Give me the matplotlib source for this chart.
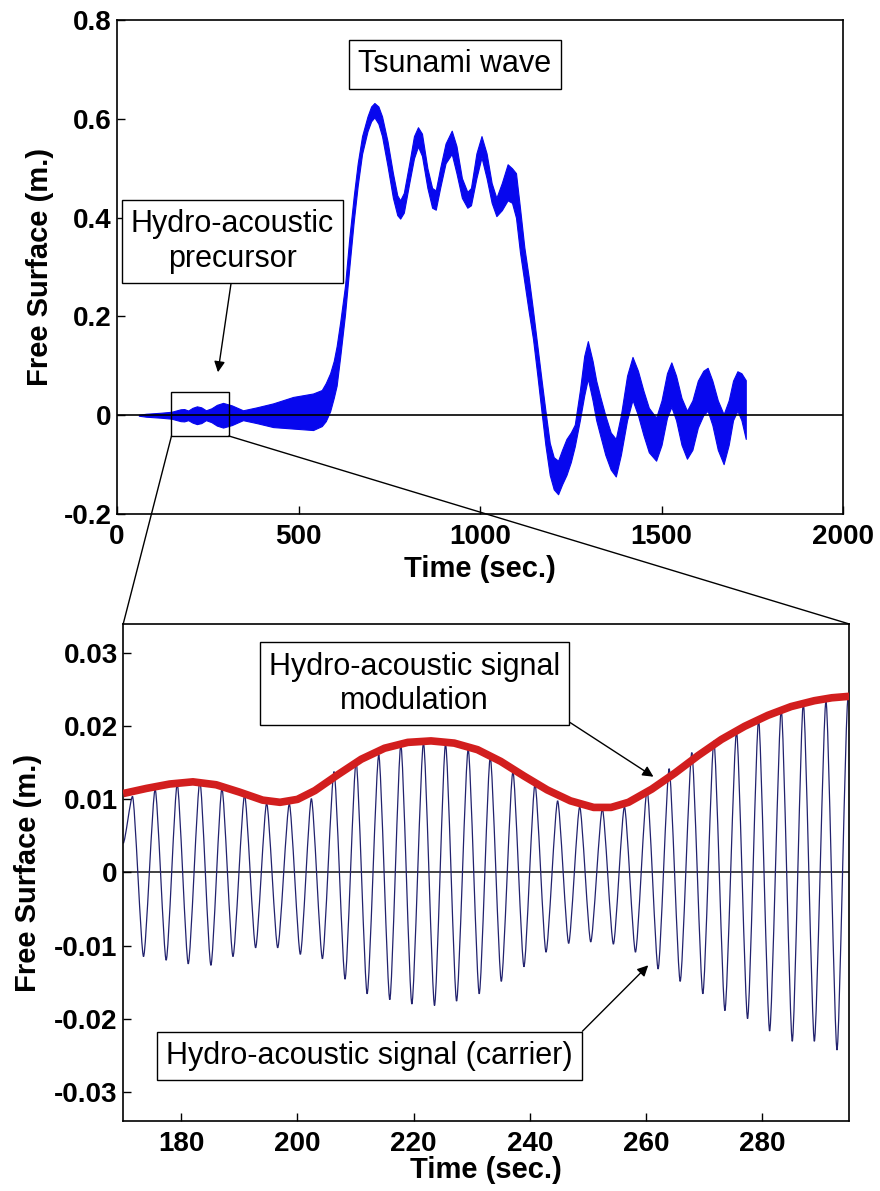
import matplotlib
matplotlib.use("Agg")
import matplotlib.pyplot as plt
from matplotlib.patches import Rectangle, ConnectionPatch, PathPatch
from matplotlib.path import Path

plt.rcParams["font.family"] = ["Liberation Sans", "DejaVu Sans"]

# ---- top panel: tsunami record, drawn as the envelope of the fast oscillation ----
t_top = [60, 80, 120, 150, 175, 185, 196, 208, 220, 232, 245, 260, 275, 292, 316,
         347, 385, 430, 485, 540, 564, 575, 587, 597, 605, 615, 628, 640, 652, 663,
         675, 690, 700, 709, 720, 730, 745, 760, 772, 780, 790, 805, 818, 829, 840,
         855, 868, 878, 890, 905, 922, 935, 950, 965, 975, 990, 1004, 1018, 1032,
         1045, 1060, 1076, 1088, 1099, 1110, 1122, 1134, 1146, 1158, 1169, 1180,
         1192, 1203, 1215, 1226, 1238, 1250, 1261, 1275, 1287, 1297, 1310, 1320,
         1331, 1345, 1360, 1374, 1388, 1405, 1420, 1435, 1450, 1465, 1485, 1500,
         1515, 1527, 1540, 1555, 1570, 1585, 1600, 1615, 1627, 1640, 1655, 1671,
         1685, 1697, 1709, 1720, 1732]
upper_top = [0.001, 0.003, 0.005, 0.007, 0.012, 0.0125, 0.0095, 0.015, 0.018, 0.016,
             0.010, 0.014, 0.021, 0.025, 0.020, 0.010, 0.016, 0.024, 0.037, 0.044,
             0.051, 0.065, 0.085, 0.110, 0.140, 0.190, 0.262, 0.360, 0.443, 0.510,
             0.565, 0.605, 0.625, 0.632, 0.625, 0.605, 0.555, 0.490, 0.445, 0.435,
             0.450, 0.510, 0.565, 0.583, 0.570, 0.500, 0.460, 0.455, 0.500, 0.550,
             0.576, 0.545, 0.480, 0.452, 0.460, 0.530, 0.565, 0.530, 0.470, 0.440,
             0.470, 0.508, 0.500, 0.490, 0.420, 0.340, 0.280, 0.212, 0.140, 0.074,
             0.010, -0.056, -0.085, -0.092, -0.070, -0.048, -0.035, -0.019, 0.050,
             0.120, 0.150, 0.110, 0.070, 0.038, 0.000, -0.035, -0.048, 0.000, 0.080,
             0.118, 0.090, 0.050, 0.015, -0.005, 0.030, 0.085, 0.107, 0.080, 0.035,
             0.009, 0.030, 0.070, 0.090, 0.096, 0.070, 0.030, 0.002, 0.030, 0.070,
             0.089, 0.085, 0.071]
lower_top = [-0.001, -0.003, -0.005, -0.007, -0.012, -0.0125, -0.010, -0.015, -0.018,
             -0.016, -0.010, -0.014, -0.021, -0.025, -0.020, -0.010, -0.016, -0.024,
             -0.027, -0.030, -0.022, -0.012, 0.008, 0.035, 0.060, 0.120, 0.204, 0.300,
             0.392, 0.465, 0.529, 0.575, 0.595, 0.603, 0.590, 0.565, 0.505, 0.440,
             0.405, 0.398, 0.410, 0.470, 0.520, 0.544, 0.525, 0.460, 0.420, 0.416,
             0.460, 0.510, 0.529, 0.490, 0.440, 0.420, 0.425, 0.480, 0.522, 0.480,
             0.430, 0.403, 0.415, 0.435, 0.430, 0.400, 0.330, 0.270, 0.210, 0.154,
             0.080, 0.009, -0.060, -0.121, -0.150, -0.160, -0.140, -0.121, -0.095,
             -0.063, -0.010, 0.040, 0.074, 0.030, -0.010, -0.041, -0.080, -0.110,
             -0.124, -0.080, -0.010, 0.031, 0.000, -0.040, -0.075, -0.092, -0.060,
             -0.005, 0.017, -0.010, -0.060, -0.088, -0.070, -0.025, 0.000, 0.009,
             -0.020, -0.070, -0.099, -0.060, -0.010, 0.009, -0.010, -0.048]

# ---- bottom panel: carrier extremes and the modulation envelope ----
peak_t = [171.6, 175.5, 179.3, 183.2, 187.0, 190.9, 194.7, 198.6, 202.4, 206.3, 210.1,
          214.0, 217.8, 221.7, 225.5, 229.4, 233.2, 237.1, 240.9, 244.8, 248.6, 252.5,
          256.3, 260.2, 264.0, 267.9, 271.7, 275.6, 279.4, 283.3, 287.1, 291.0, 294.8]
peak_v = [0.0104, 0.0114, 0.0121, 0.0125, 0.0115, 0.0106, 0.0095, 0.0094, 0.0101,
          0.0138, 0.0152, 0.0161, 0.0175, 0.0178, 0.0176, 0.0169, 0.0158, 0.0138,
          0.0121, 0.0098, 0.0090, 0.0087, 0.0090, 0.0113, 0.0142, 0.0164, 0.0180,
          0.0193, 0.0209, 0.0223, 0.0232, 0.0235, 0.0239]
trough_t = [173.5, 177.4, 181.2, 185.1, 188.9, 192.8, 196.6, 200.5, 204.3, 208.2, 212.0,
            215.9, 219.7, 223.6, 227.4, 231.3, 235.1, 239.0, 242.8, 246.7, 250.5, 254.4,
            258.2, 262.1, 265.9, 269.8, 273.6, 277.5, 281.3, 285.2, 289.0, 292.9]
trough_v = [-0.0115, -0.0120, -0.0125, -0.0127, -0.0115, -0.0103, -0.0103, -0.0112,
            -0.0118, -0.0146, -0.0166, -0.0174, -0.0180, -0.0182, -0.0176, -0.0166,
            -0.0149, -0.0129, -0.0109, -0.0097, -0.0095, -0.0098, -0.0109, -0.0132,
            -0.0149, -0.0166, -0.0189, -0.0200, -0.0217, -0.0231, -0.0231, -0.0243]
start_t, start_v = 170.0, 0.004

env_t = [170, 174, 178, 182, 186, 190, 194, 197, 200, 203, 207, 211, 215, 219, 223, 227,
         231, 235, 239, 243, 247, 251, 254, 257, 261, 265, 269, 273, 277, 281, 285, 289,
         292, 295]
env_v = [0.0108, 0.0115, 0.0121, 0.0124, 0.0120, 0.0110, 0.0099, 0.0096, 0.0100, 0.0112,
         0.0134, 0.0155, 0.0170, 0.0178, 0.0180, 0.0177, 0.0168, 0.0152, 0.0132, 0.0113,
         0.0098, 0.0089, 0.0089, 0.0096, 0.0114, 0.0136, 0.0160, 0.0182, 0.0200, 0.0215,
         0.0227, 0.0235, 0.0239, 0.0241]

top_xticks = [0, 500, 1000, 1500, 2000]
top_yticks = [-0.2, 0, 0.2, 0.4, 0.6, 0.8]
top_ylabels = ["-0.2", "0", "0.2", "0.4", "0.6", "0.8"]
bot_xticks = [180, 200, 220, 240, 260, 280]
bot_yticks = [-0.03, -0.02, -0.01, 0, 0.01, 0.02, 0.03]
bot_ylabels = ["-0.03", "-0.02", "-0.01", "0", "0.01", "0.02", "0.03"]

TICK_FS = 20
LABEL_FS = 21
NOTE_FS = 22
BOX = dict(boxstyle="square,pad=0.3", fc="white", ec="black", lw=1)
ARROW = dict(arrowstyle="-|>", color="black", lw=1, mutation_scale=16,
             shrinkA=0, shrinkB=0)


def style_axes(ax):
    for sp in ax.spines.values():
        sp.set_linewidth(1.2)
    ax.tick_params(direction="in", length=6, width=1, top=False, right=False)
    ax.tick_params(axis="x", pad=7)
    ax.tick_params(axis="y", pad=4)
    for lab in ax.get_xticklabels() + ax.get_yticklabels():
        lab.set_fontsize(TICK_FS)
        lab.set_fontweight("bold")


def smooth_wave(ts, vs, k=0.22):
    # cubic segments with flat tangents at each extreme -> narrow rounded spikes
    verts = [(ts[0], vs[0])]
    codes = [Path.MOVETO]
    for i in range(1, len(ts)):
        dt = ts[i] - ts[i - 1]
        verts += [(ts[i - 1] + k * dt, vs[i - 1]), (ts[i] - k * dt, vs[i]), (ts[i], vs[i])]
        codes += [Path.CURVE4] * 3
    return Path(verts, codes)


fig = plt.figure(figsize=(8.8, 11.91), dpi=100)
ax1 = fig.add_axes([0.133, 0.5684, 0.825, 0.4148])
ax2 = fig.add_axes([0.140, 0.0588, 0.825, 0.4173])

# top panel
ax1.fill_between(t_top, lower_top, upper_top, color="#0707ee", lw=0.8, ec="#0707ee")
ax1.axhline(0, color="black", lw=1.2, zorder=1)
ax1.set_xlim(0, 2000)
ax1.set_ylim(-0.2, 0.8)
ax1.set_xticks(top_xticks)
ax1.set_yticks(top_yticks)
ax1.set_yticklabels(top_ylabels)
style_axes(ax1)
ax1.set_xlabel("Time (sec.)", fontsize=LABEL_FS, fontweight="bold")
ax1.set_ylabel("Free Surface (m.)", fontsize=LABEL_FS, fontweight="bold")
ax1.xaxis.set_label_coords(0.5, -0.083)
ax1.yaxis.set_label_coords(-0.087, 0.5)

ax1.text(931, 0.71, "Tsunami wave", ha="center", va="center", fontsize=NOTE_FS, bbox=BOX)
ax1.annotate("Hydro-acoustic\nprecursor", xy=(278, 0.087), xytext=(318, 0.352),
             ha="center", va="center", fontsize=NOTE_FS, bbox=BOX,
             arrowprops=dict(ARROW, relpos=(0.5, 0)))
ax1.add_patch(Rectangle((150, -0.042), 158, 0.089, fill=False, ec="black", lw=1, zorder=4))

# bottom panel
pts = sorted(zip(peak_t + trough_t, peak_v + trough_v))
car_t = [start_t] + [p[0] for p in pts]
car_v = [start_v] + [p[1] for p in pts]
ax2.axhline(0, color="#222222", lw=1.2, zorder=1)
ax2.add_patch(PathPatch(smooth_wave(car_t, car_v), fill=False, ec="#22226e", lw=0.9, zorder=2))
ax2.plot(env_t, env_v, color="#d21e1e", lw=5.5, solid_capstyle="butt", zorder=3)
ax2.set_xlim(170, 295)
ax2.set_ylim(-0.034, 0.034)
ax2.set_xticks(bot_xticks)
ax2.set_yticks(bot_yticks)
ax2.set_yticklabels(bot_ylabels)
style_axes(ax2)
ax2.set_xlabel("Time (sec.)", fontsize=LABEL_FS, fontweight="bold")
ax2.set_ylabel("Free Surface (m.)", fontsize=LABEL_FS, fontweight="bold")
ax2.xaxis.set_label_coords(0.5, -0.07)
ax2.yaxis.set_label_coords(-0.112, 0.5)

ax2.annotate("Hydro-acoustic signal\nmodulation", xy=(261.3, 0.0131), xytext=(220.2, 0.0258),
             ha="center", va="center", fontsize=NOTE_FS, bbox=BOX,
             arrowprops=dict(ARROW, relpos=(1, 0)), zorder=5)
ax2.annotate("Hydro-acoustic signal (carrier)", xy=(260.4, -0.0127), xytext=(212.4, -0.0251),
             ha="center", va="center", fontsize=NOTE_FS, bbox=BOX,
             arrowprops=dict(ARROW, relpos=(1, 1)), zorder=5)

# zoom connector lines
for xa, xb in [(150, 0), (308, 1)]:
    con = ConnectionPatch(xyA=(xa, -0.042), coordsA=ax1.transData,
                          xyB=(xb, 1), coordsB=ax2.transAxes,
                          color="black", lw=1)
    fig.add_artist(con)

fig.savefig("out.png", dpi=100)
